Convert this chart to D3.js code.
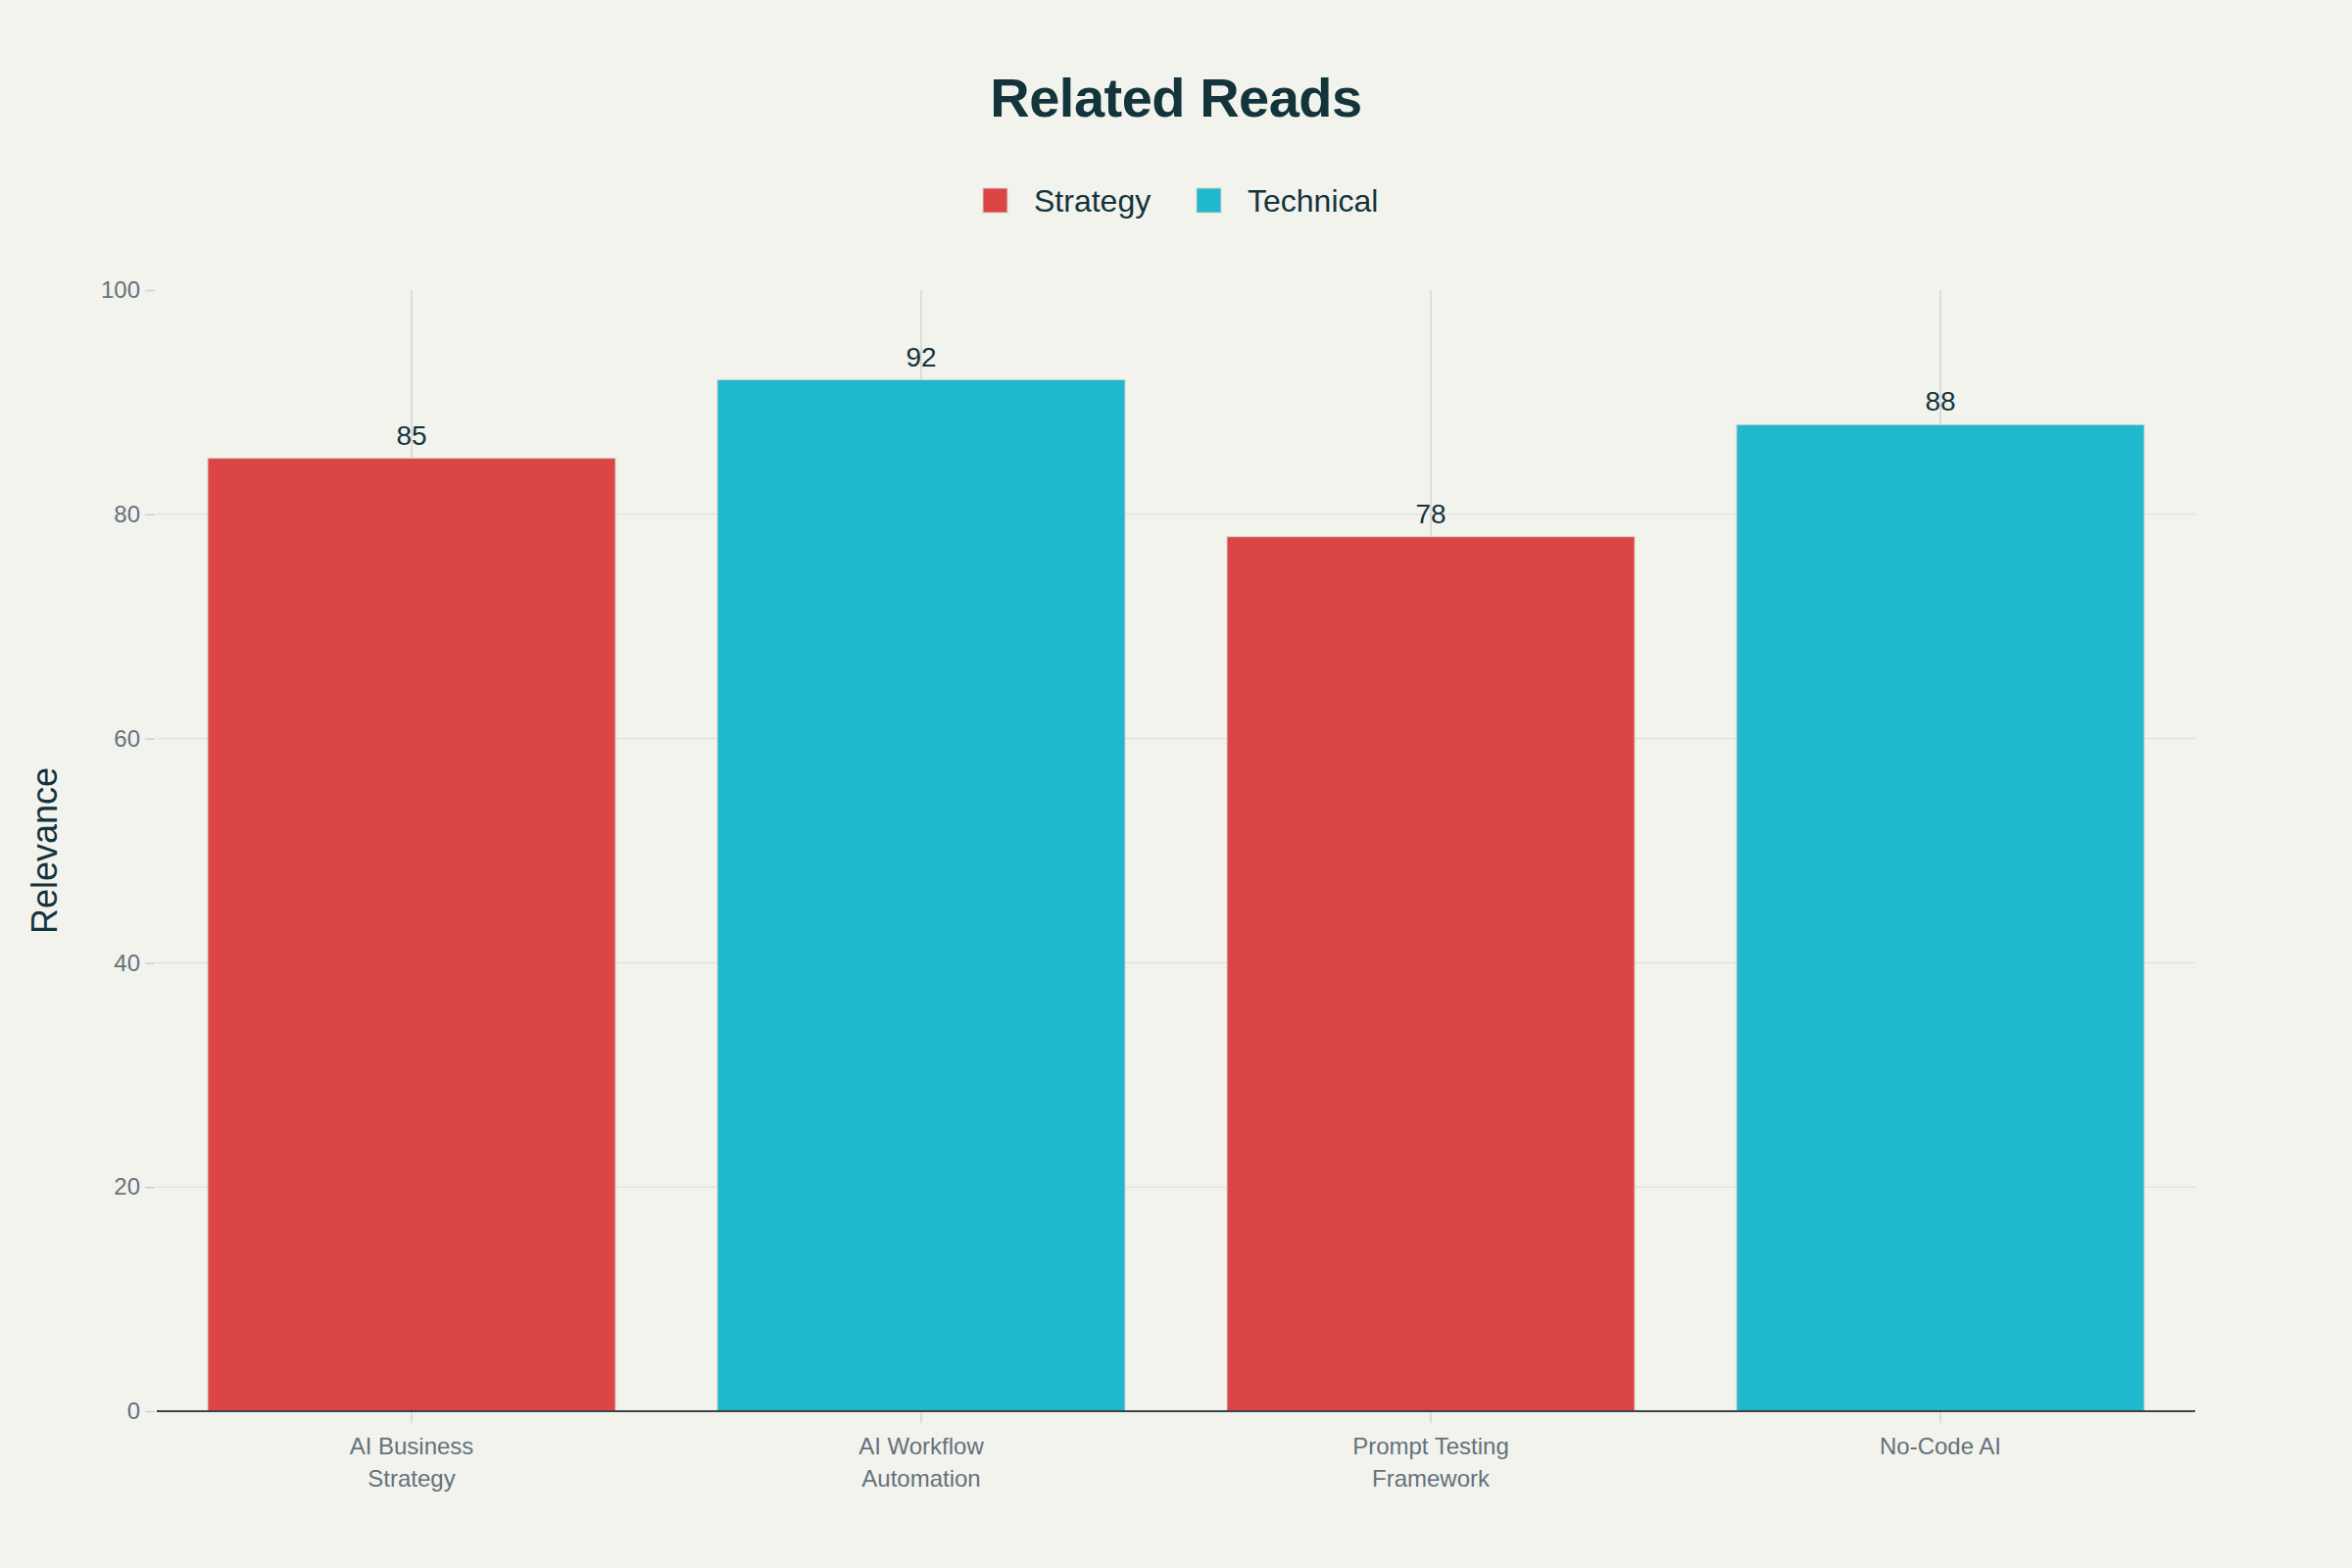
<!DOCTYPE html>
<html>
<head>
<meta charset="utf-8">
<script src="https://cdn.jsdelivr.net/npm/d3@7"></script>
<style>
  body { margin: 0; background: #f3f3ee; }
  svg { display: block; }
  text { font-family: "Liberation Sans", Arial, sans-serif; }
</style>
</head>
<body>
<svg class="chart"></svg>
<script>
"use strict";
var width = 2400;
var height = 1600;

// data
var categories = ["AI Business Strategy", "AI Workflow Automation", "Prompt Testing Framework", "No-Code AI"];
var catLines = [["AI Business", "Strategy"], ["AI Workflow", "Automation"], ["Prompt Testing", "Framework"], ["No-Code AI"]];
var relevance = [85, 92, 78, 88];
var kinds = ["Strategy", "Technical", "Strategy", "Technical"];
var legendNames = ["Strategy", "Technical"];
var yTicks = [0, 20, 40, 60, 80, 100];

var colors = {Strategy: "#db4545", Technical: "#1fb8cd"};
var margin = {top: 296, right: 160, bottom: 160, left: 160};

var svg = d3.select(".chart")
	.attr("width", width)
	.attr("height", height)
	.style("background", "#f3f3ee");

var x = d3.scaleBand()
	.domain(categories)
	.range([margin.left, width - margin.right])
	.paddingInner(0.2)
	.paddingOuter(0.1);

var y = d3.scaleLinear()
	.domain([0, 100])
	.range([height - margin.bottom, margin.top]);

// horizontal grid
svg.append("g")
	.selectAll("line")
	.data(yTicks.filter(function(d){ return d > 0 && d < 100; }))
	.enter().append("line")
	.attr("x1", margin.left)
	.attr("x2", width - margin.right)
	.attr("y1", function(d){ return y(d); })
	.attr("y2", function(d){ return y(d); })
	.attr("stroke", "#dcdcd5")
	.attr("stroke-width", 1);

// vertical grid at category centres
svg.append("g")
	.selectAll("line")
	.data(categories)
	.enter().append("line")
	.attr("x1", function(d){ return x(d) + x.bandwidth()/2; })
	.attr("x2", function(d){ return x(d) + x.bandwidth()/2; })
	.attr("y1", y(100))
	.attr("y2", y(0))
	.attr("stroke", "#d6d6d0")
	.attr("stroke-width", 1.5);

// y axis
var yAxis = svg.append("g")
	.attr("transform", "translate(" + (margin.left - 2) + ",0)")
	.call(d3.axisLeft(y).tickValues(yTicks).tickSize(10).tickPadding(5));
yAxis.select(".domain").remove();
yAxis.selectAll(".tick line").attr("stroke", "#d0d0ca").attr("stroke-width", 1.5);
yAxis.selectAll(".tick text")
	.attr("fill", "#64727a")
	.style("font-size", "24px")
	.style("font-family", "'Liberation Sans', Arial, sans-serif");

// bars
svg.append("g")
	.selectAll("rect")
	.data(categories)
	.enter().append("rect")
	.attr("x", function(d){ return x(d); })
	.attr("y", function(d, i){ return y(relevance[i]); })
	.attr("width", x.bandwidth())
	.attr("height", function(d, i){ return y(0) - y(relevance[i]); })
	.attr("fill", function(d, i){ return colors[kinds[i]]; })
	.attr("stroke", "#d3d3cc")
	.attr("stroke-width", 1);

// value labels
svg.append("g")
	.selectAll("text")
	.data(categories)
	.enter().append("text")
	.attr("x", function(d){ return x(d) + x.bandwidth()/2; })
	.attr("y", function(d, i){ return y(relevance[i]) - 14; })
	.attr("text-anchor", "middle")
	.attr("fill", "#13343b")
	.style("font-size", "28px")
	.text(function(d, i){ return relevance[i]; });

// x axis
var xAxis = svg.append("g")
	.attr("transform", "translate(0," + y(0) + ")")
	.call(d3.axisBottom(x).tickSize(12).tickFormat(""));
xAxis.select(".domain").remove();
xAxis.selectAll(".tick line").attr("stroke", "#d6d6d0").attr("stroke-width", 1.5);
svg.append("line")
	.attr("x1", margin.left)
	.attr("x2", width - margin.right)
	.attr("y1", y(0))
	.attr("y2", y(0))
	.attr("stroke", "#3d4446")
	.attr("stroke-width", 2);

// category labels (wrapped)
var catLabel = svg.append("g")
	.selectAll("text")
	.data(categories)
	.enter().append("text")
	.attr("x", function(d){ return x(d) + x.bandwidth()/2; })
	.attr("y", y(0) + 44)
	.attr("text-anchor", "middle")
	.attr("fill", "#64727a")
	.style("font-size", "24px");
catLabel.each(function(d, i){
	var t = d3.select(this);
	catLines[i].forEach(function(line, j){
		t.append("tspan")
			.attr("x", x(d) + x.bandwidth()/2)
			.attr("dy", j === 0 ? 0 : 33)
			.text(line);
	});
});

// y axis title
svg.append("text")
	.attr("transform", "translate(58," + ((y(0) + y(100))/2) + ") rotate(-90)")
	.attr("text-anchor", "middle")
	.attr("fill", "#13343b")
	.style("font-size", "36px")
	.text("Relevance");

// title
svg.append("text")
	.attr("x", width/2)
	.attr("y", 119)
	.attr("text-anchor", "middle")
	.attr("fill", "#13343b")
	.style("font-size", "56px")
	.style("font-weight", "bold")
	.style("letter-spacing", "-0.5px")
	.text("Related Reads");

// legend
var legendX = [1003, 1221];
var legend = svg.append("g")
	.selectAll("g")
	.data(legendNames)
	.enter().append("g")
	.attr("transform", function(d, i){ return "translate(" + legendX[i] + ",192)"; });
legend.append("rect")
	.attr("width", 25)
	.attr("height", 25)
	.attr("fill", function(d){ return colors[d]; })
	.attr("stroke", "#d3d3cc")
	.attr("stroke-width", 1);
legend.append("text")
	.attr("x", 52)
	.attr("y", 24)
	.attr("fill", "#13343b")
	.style("font-size", "32px")
	.text(function(d){ return d; });
</script>
</body>
</html>
